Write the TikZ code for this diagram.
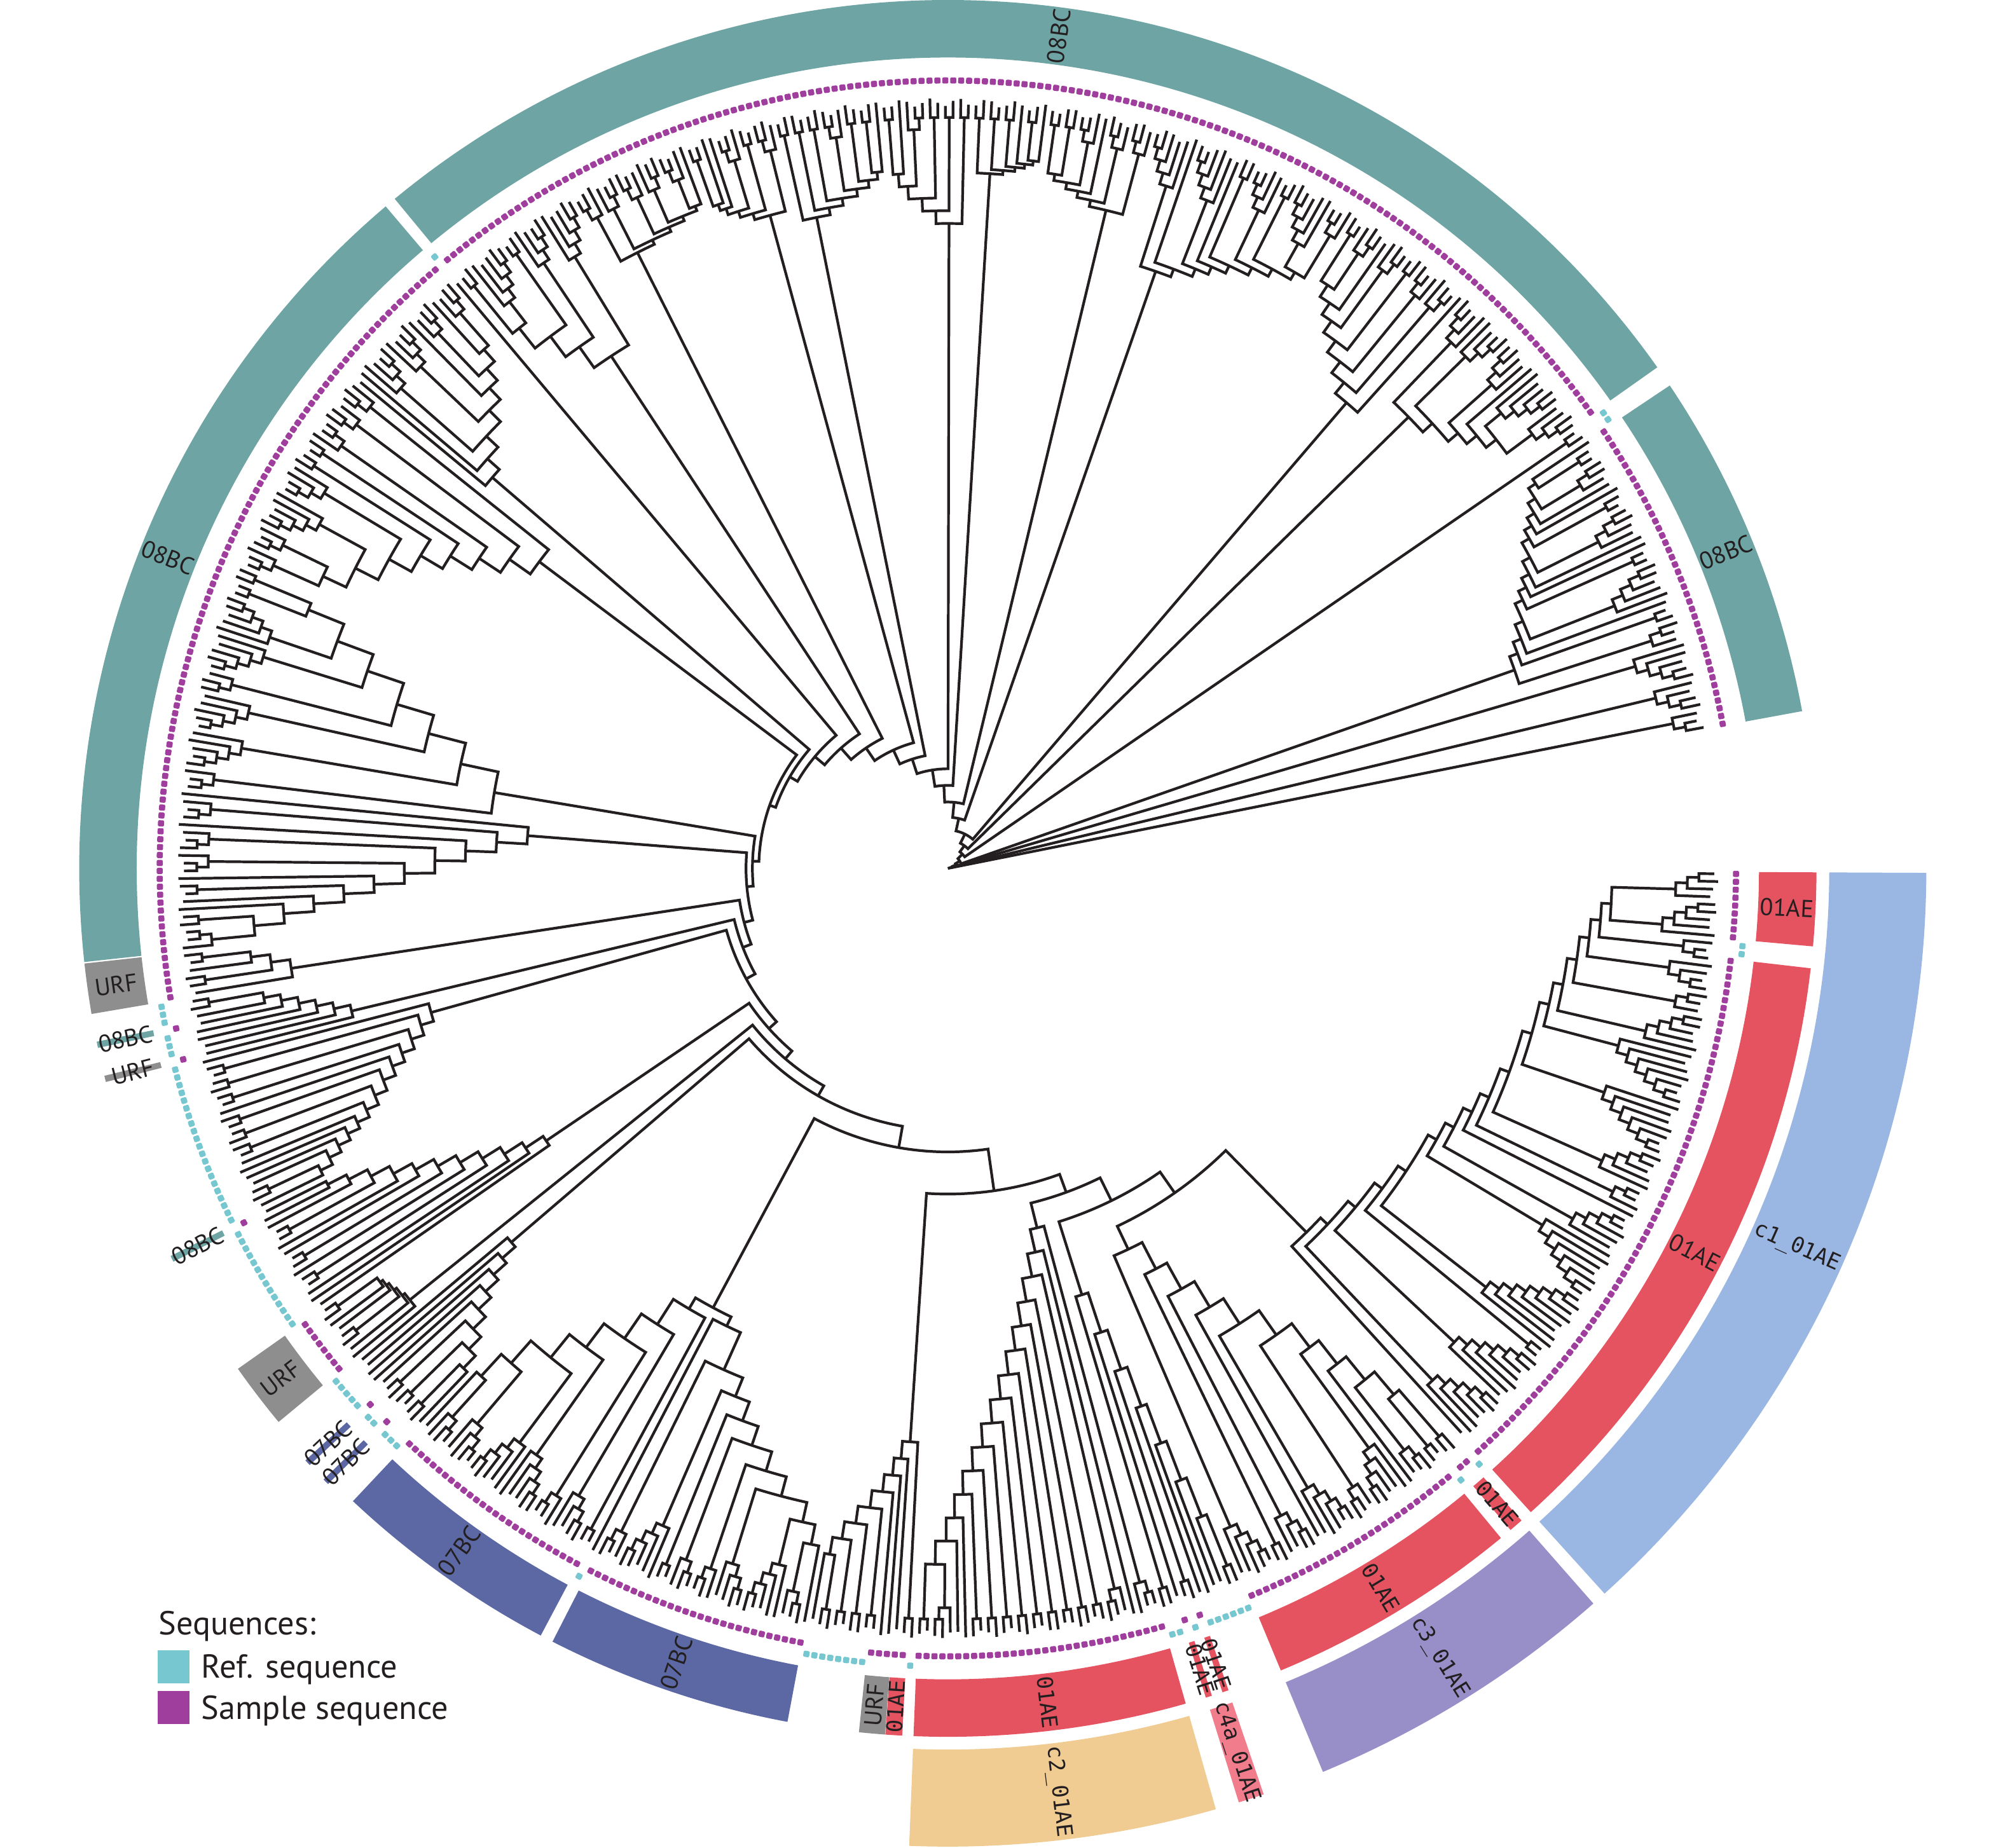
\documentclass[tikz,border=0pt]{standalone}
\usepackage{fontspec}
\setmainfont{PT Sans}
\newfontfamily\monof{DejaVu Sans Mono}
\definecolor{tealc}{HTML}{6EA4A3}
\definecolor{urfc}{HTML}{8E8E8E}
\definecolor{bluec}{HTML}{5B68A4}
\definecolor{redc}{HTML}{E55360}
\definecolor{cone}{HTML}{9AB6E2}
\definecolor{ctwo}{HTML}{F0CB92}
\definecolor{cthree}{HTML}{988FC9}
\definecolor{cfour}{HTML}{F07C8C}
\definecolor{refc}{HTML}{76C7D0}
\definecolor{smpc}{HTML}{A03E9E}
\definecolor{inkc}{HTML}{231F20}

\newcommand\gset[2]{\expandafter\xdef\csname #1\endcsname{#2}}
\newcommand\gget[1]{\csname #1\endcsname}
\newcount\cpos \newcount\cm \newcount\crem \newcount\blc
\pgfmathdeclarefunction{tipang}{1}{\pgfmathparse{359.6-0.5769*#1}}
\pgfmathdeclarefunction{tiprad}{1}{\pgfmathparse{600+3*sin(mod(#1,61)*97.1)}}
\newcommand\lfs{\fontsize{19}{19}\selectfont}
\newcommand\mfs{\monof\fontsize{17}{17}\selectfont}

% ladder backbone: arrays <P>a k (unit angle), <P>r k (unit radius), <P>n k (node radius)
\newcommand\backbone[2]{%
  \pgfmathtruncatemacro\bbm{#2}%
  \ifnum\bbm=1
    \gset{#1rootA}{\gget{#1a1}}\gset{#1rootR}{\gget{#1r1}}%
  \else
    \xdef\curB{\gget{#1a\bbm}}\xdef\curR{\gget{#1r\bbm}}%
    \pgfmathtruncatemacro\bbmm{\bbm-1}%
    \foreach \k in {\bbmm,...,1}{%
      \edef\ka{\gget{#1a\k}}\edef\kr{\gget{#1r\k}}\edef\kn{\gget{#1n\k}}%
      \draw[tree] (\ka:\kr) -- (\ka:\kn) arc[start angle=\ka, end angle=\curB, radius=\kn] -- (\curB:\curR);
      \pgfmathsetmacro\newB{(\ka+\curB)/2}%
      \xdef\curB{\newB}\xdef\curR{\kn}%
    }%
    \gset{#1rootA}{\curB}\gset{#1rootR}{\curR}%
  \fi}

% small caterpillar of tips: #1 first tip, #2 count, #3 flip
\newcommand\sub[3]{%
  \pgfmathtruncatemacro\sn{#2}%
  \ifnum\sn=1
    \pgfmathsetmacro\tmpa{tipang(#1)}\pgfmathsetmacro\tmpr{tiprad(#1)}%
    \xdef\subA{\tmpa}\xdef\subR{\tmpr}%
  \else
    \foreach \j in {1,...,\sn}{%
      \ifnum#3=0 \pgfmathtruncatemacro\ii{#1+\j-1}\else\pgfmathtruncatemacro\ii{#1+\sn-\j}\fi
      \pgfmathsetmacro\tmpa{tipang(\ii)}\pgfmathsetmacro\tmpr{tiprad(\ii)}%
      \gset{Sa\j}{\tmpa}\gset{Sr\j}{\tmpr}%
      \pgfmathsetmacro\tmpn{588-9*(\sn-1-\j)}\gset{Sn\j}{\tmpn}%
    }%
    \backbone{S}{\sn}%
    \xdef\subA{\SrootA}\xdef\subR{\SrootR}%
  \fi}

% comb of small units: #1 prefix #2 first tip #3 count #4 root radius #5 top radius #6 max unit #7 direction
\newcommand\comb[7]{%
  \global\cm=0
  \ifnum#7=0 \global\cpos=#2\relax\else\global\cpos=\numexpr#2+#3-1\relax\fi
  \global\crem=#3\relax
  \loop
    \pgfmathrandominteger{\usz}{1}{#6}%
    \ifnum\usz>\crem \edef\usz{\the\crem}\fi
    \pgfmathrandominteger{\uflip}{0}{1}%
    \ifnum#7=0 \edef\ustart{\the\cpos}\else\edef\ustart{\the\numexpr\cpos-\usz+1\relax}\fi
    \sub{\ustart}{\usz}{\uflip}%
    \global\advance\cm by 1
    \gset{#1a\the\cm}{\subA}\gset{#1r\the\cm}{\subR}%
    \ifnum#7=0 \global\advance\cpos by \usz\relax\else\global\advance\cpos by -\usz\relax\fi
    \global\advance\crem by -\usz\relax
  \ifnum\crem>0 \repeat
  \ifnum\cm>1
    \pgfmathtruncatemacro\cmm{\cm-1}%
    \foreach \k in {1,...,\cmm}{%
      \pgfmathsetmacro\tmpn{#4+(#5-#4)*(\k-1)/max(\cmm-1,1)}\gset{#1n\k}{\tmpn}}%
  \fi
  \backbone{#1}{\the\cm}%
}
\newcommand\unit[4]{\gset{#1a#2}{#3}\gset{#1r#2}{#4}}
\newcommand\nodeR[3]{\gset{#1n#2}{#3}}
\newcommand\mkcomb[9]{\comb{C}{#4}{#5}{#6}{#7}{#8}{#9}\unit{#1}{#2}{\CrootA}{\CrootR}\nodeR{#1}{#2}{#3}}
\newcommand\mksub[5]{\sub{#4}{#5}{0}\unit{#1}{#2}{\subA}{\subR}\nodeR{#1}{#2}{#3}}

% coloured ring segment with its label: #1 #2 tips, #3 colour, #4 #5 radii, #6 trim, #7 text, #8 font
\newcommand\band[8]{%
  \pgfmathsetmacro\ba{tipang(#1)+0.2885-#6}%
  \pgfmathsetmacro\bb{tipang(#2)-0.2885+#6}%
  \fill[#3] (\ba:#4) arc[start angle=\ba, end angle=\bb, radius=#4] -- (\bb:#5) arc[start angle=\bb, end angle=\ba, radius=#5] -- cycle;
  \pgfmathsetmacro\bm{(\ba+\bb)/2}%
  \pgfmathsetmacro\bmr{(#4+#5)/2}%
  \pgfmathsetmacro\brot{\bm-180*((\bm>90)*(\bm<270))}%
  \global\advance\blc by 1
  \node[rotate=\brot, font=#8, text=inkc, inner sep=0pt] (lab\the\blc) at (\bm:\bmr) {#7};
}
\newcommand\cyr[2]{\foreach \c in {#1,...,#2}{\gset{cy\c}{1}}}

\begin{document}
\begin{tikzpicture}[x=1pt,y=1pt,
  tree/.style={draw=inkc, line width=2.1pt, line join=miter}]
\useasboundingbox (0,0) rectangle (1568,1447);
\pgfmathsetseed{12}
\begin{scope}[shift={(742,767)}]
% ---------- inner ring ----------
\band{0}{8}{redc}{635}{680}{0.15}{01AE}{\lfs}
\band{11}{82}{redc}{635}{680}{0.15}{01AE}{\lfs}
\band{84}{85}{redc}{635}{680}{0.1}{01AE}{\mfs}
\band{87}{116}{redc}{635}{680}{0.15}{01AE}{\mfs}
\band{123}{123}{redc}{635}{680}{0.08}{01AE}{\mfs}
\band{125}{125}{redc}{635}{680}{0.08}{01AE}{\mfs}
\band{128}{159}{redc}{635}{680}{0.15}{01AE}{\mfs}
\band{161}{162}{redc}{635}{680}{0.02}{01AE}{\mfs}
\band{163}{165}{urfc}{635}{680}{0.0}{URF}{\lfs}
\band{174}{202}{bluec}{635}{680}{0.15}{07BC}{\lfs}
\band{204}{230}{bluec}{635}{680}{0.15}{07BC}{\lfs}
\band{234}{234}{bluec}{640}{684}{0.08}{07BC}{\lfs}
\band{237}{237}{bluec}{640}{684}{0.08}{07BC}{\lfs}
\band{243}{250}{urfc}{635}{680}{0.1}{URF}{\lfs}
\band{265}{265}{tealc}{635}{680}{0.08}{08BC}{\lfs}
\band{287}{287}{urfc}{635}{680}{0.08}{URF}{\lfs}
\band{291}{291}{tealc}{635}{680}{0.08}{08BC}{\lfs}
\band{295}{300}{urfc}{635}{680}{0.05}{URF}{\lfs}
\band{301}{397}{tealc}{635}{680}{0.05}{08BC}{\lfs}
\band{399}{562}{tealc}{635}{680}{0.15}{08BC}{\lfs}
\band{565}{605}{tealc}{635}{680}{0.15}{08BC}{\lfs}
% ---------- outer ring ----------
\band{0}{82}{cone}{690}{766}{0.15}{c1\_01AE}{\mfs}
\band{84}{116}{cthree}{690}{766}{0.15}{c3\_01AE}{\mfs}
\band{123}{125}{cfour}{690}{766}{0.1}{c4a\_01AE}{\mfs}
\band{128}{159}{ctwo}{690}{766}{0.15}{c2\_01AE}{\mfs}
% ---------- tree ----------
\mksub{T}{1}{1}{603}{3}
\mksub{T}{2}{4}{599}{4}
\mksub{T}{3}{7}{594}{5}
\mkcomb{T}{4}{11}{565}{29}{470}{550}{5}{1}
\mksub{T}{5}{16}{563}{2}
\mkcomb{T}{6}{22}{541}{22}{505}{545}{5}{0}
\mkcomb{T}{7}{30}{523}{18}{480}{545}{4}{1}
\mkcomb{T}{8}{40}{495}{28}{495}{540}{5}{0}
\mkcomb{T}{9}{52}{481}{14}{530}{550}{3}{1}
\mkcomb{T}{10}{65}{471}{10}{545}{558}{2}{0}
\mkcomb{T}{11}{78}{459}{12}{505}{545}{4}{1}
\mkcomb{T}{12}{90}{445}{14}{520}{548}{3}{0}
\mkcomb{T}{13}{102}{433}{12}{530}{550}{3}{1}
\mkcomb{T}{14}{114}{417}{16}{540}{555}{3}{0}
\mkcomb{T}{15}{126}{399}{18}{480}{540}{5}{1}
\mksub{T}{16}{136}{398}{1}
\mkcomb{T}{17}{143}{380}{18}{470}{545}{4}{0}
\mkcomb{T}{18}{148}{352}{28}{400}{540}{5}{1}
\mkcomb{T}{19}{153}{322}{30}{360}{540}{5}{0}
\mkcomb{T}{20}{158}{301}{21}{330}{545}{4}{1}
\mkcomb{T}{21}{165}{295}{6}{520}{550}{2}{0}
\mkcomb{T}{22}{172}{287}{8}{480}{545}{2}{0}
\mkcomb{T}{23}{180}{266}{21}{420}{545}{2}{1}
\mkcomb{T}{24}{188}{251}{15}{380}{545}{2}{0}
\mkcomb{T}{25}{196}{243}{8}{540}{550}{2}{0}
\mkcomb{T}{26}{205}{231}{12}{450}{545}{2}{1}
% 07BC group
\mkcomb{G}{1}{390}{204}{27}{400}{540}{5}{0}
\mksub{G}{2}{398}{203}{1}
\mkcomb{G}{3}{0}{174}{29}{430}{540}{5}{1}
\backbone{G}{3}
\unit{T}{27}{\GrootA}{\GrootR}\nodeR{T}{27}{222}
% 01AE group
\mkcomb{G}{1}{255}{160}{14}{450}{545}{2}{0}
\mkcomb{G}{2}{270}{128}{32}{290}{545}{3}{0}
\mkcomb{G}{3}{290}{117}{11}{350}{545}{2}{1}
\mkcomb{G}{4}{310}{84}{33}{330}{540}{5}{1}
\mkcomb{G}{5}{0}{0}{83}{400}{520}{8}{1}
\backbone{G}{5}
\unit{T}{28}{\GrootA}{\GrootR}
\backbone{T}{28}
% ---------- tip points ----------
\cyr{9}{10}\cyr{83}{83}\cyr{86}{86}\cyr{117}{122}\cyr{124}{124}\cyr{126}{127}
\cyr{160}{160}\cyr{166}{173}\cyr{203}{203}\cyr{231}{233}\cyr{235}{236}\cyr{238}{242}
\cyr{251}{264}\cyr{266}{286}\cyr{288}{290}\cyr{292}{294}\cyr{398}{398}\cyr{563}{564}
\foreach \i in {0,...,605}{%
  \pgfmathsetmacro\da{tipang(\i)}%
  \ifcsname cy\i\endcsname
    \def\drr{625}\def\dc{refc}%
  \else
    \def\drr{617}\def\dc{smpc}%
  \fi
  \fill[\dc, shift={(\da:\drr)}, rotate=\da, rounded corners=1.1pt] (-2.4,-2.4) rectangle (2.4,2.4);
}
\end{scope}
% ---------- legend ----------
\node[anchor=base west, font=\fontsize{26}{26}\selectfont, text=inkc, inner sep=0pt] (lgt) at (124,167) {Sequences:};
\fill[refc] (123.5,129) rectangle (148.5,155);
\node[anchor=base west, font=\fontsize{26}{26}\selectfont, text=inkc, inner sep=0pt] (lgr) at (157.5,133) {Ref. sequence};
\fill[smpc] (123.5,97) rectangle (148.5,123);
\node[anchor=base west, font=\fontsize{26}{26}\selectfont, text=inkc, inner sep=0pt] (lgs) at (157.5,101) {Sample sequence};
\end{tikzpicture}
\end{document}
